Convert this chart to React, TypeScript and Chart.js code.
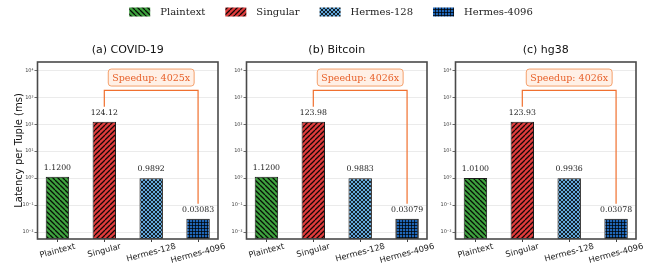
import React, { useEffect, useRef } from 'react';
import { Chart, registerables } from 'chart.js';
Chart.register(...registerables);

// ---------- data ----------
const categories = ['Plaintext', 'Singular', 'Hermes-128', 'Hermes-4096'];
const panelTitles = ['(a) COVID-19', '(b) Bitcoin', '(c) hg38'];
const covidValues = [1.12, 124.12, 0.9892, 0.03083];
const bitcoinValues = [1.12, 123.98, 0.9883, 0.03079];
const hg38Values = [1.01, 123.93, 0.9936, 0.03078];
const covidLabels = ['1.1200', '124.12', '0.9892', '0.03083'];
const bitcoinLabels = ['1.1200', '123.98', '0.9883', '0.03079'];
const hg38Labels = ['1.0100', '123.93', '0.9936', '0.03078'];
const speedupLabels = ['Speedup: 4025x', 'Speedup: 4026x', 'Speedup: 4026x'];
const yTickValues = [1e-2, 1e-1, 1, 10, 100, 1000, 10000];
const yTickLabels = ['10⁻²', '10⁻¹', '10⁰', '10¹', '10²', '10³', '10⁴'];
const yAxisTitle = 'Latency per Tuple (ms)';
const yMin = 0.0055;
const yMax = 20400;
const bracketLevel = 1800;
const speedupBoxLevel = 5400;

const panelValues = [covidValues, bitcoinValues, hg38Values];
const panelLabels = [covidLabels, bitcoinLabels, hg38Labels];

// ---------- layout / style ----------
const W = 657;
const H = 265;
const PLOT_TOP = 62;
const PLOT_BOTTOM = 239;
const PANEL_LEFTS = [37.5, 246.5, 455.5];
const PANEL_WIDTH = 180.5;
const Y_AXIS_W = 20;

const barColors = ['#3ea23e', '#e03c3c', '#62a8dc', '#1f66b8'];
const hatchKinds = ['back', 'fwd', 'cross', 'grid'];
const ORANGE = '#f0702f';

function makePattern(kind: string, color: string): CanvasPattern | string {
  const s = kind === 'grid' ? 3 : kind === 'cross' ? 4 : 5;
  const c = document.createElement('canvas');
  c.width = s;
  c.height = s;
  const g = c.getContext('2d');
  if (!g) return color;
  g.fillStyle = color;
  g.fillRect(0, 0, s, s);
  g.strokeStyle = 'rgba(0,0,0,0.9)';
  g.lineWidth = 1.3;
  g.beginPath();
  if (kind === 'back' || kind === 'cross') {
    if (kind === 'cross') g.lineWidth = 0.9;
    for (let k = -1; k <= 1; k++) {
      g.moveTo(0, k * s);
      g.lineTo(s, s + k * s);
    }
  }
  if (kind === 'fwd' || kind === 'cross') {
    for (let k = -1; k <= 1; k++) {
      g.moveTo(0, s + k * s);
      g.lineTo(s, k * s);
    }
  }
  if (kind === 'grid') {
    g.lineWidth = 0.8;
    g.moveTo(0, 0.5);
    g.lineTo(s, 0.5);
    g.moveTo(0.5, 0);
    g.lineTo(0.5, s);
  }
  g.stroke();
  const p = g.createPattern(c, 'repeat');
  return p || color;
}

function roundRect(ctx: CanvasRenderingContext2D, x: number, y: number, w: number, h: number, r: number) {
  ctx.beginPath();
  ctx.moveTo(x + r, y);
  ctx.lineTo(x + w - r, y);
  ctx.quadraticCurveTo(x + w, y, x + w, y + r);
  ctx.lineTo(x + w, y + h - r);
  ctx.quadraticCurveTo(x + w, y + h, x + w - r, y + h);
  ctx.lineTo(x + r, y + h);
  ctx.quadraticCurveTo(x, y + h, x, y + h - r);
  ctx.lineTo(x, y + r);
  ctx.quadraticCurveTo(x, y, x + r, y);
  ctx.closePath();
}

function makeOverlayPlugin(panel: number, patterns: (CanvasPattern | string)[]) {
  return {
    id: 'overlay' + panel,
    afterDraw(chart: any) {
      const ctx: CanvasRenderingContext2D = chart.ctx;
      const area = chart.chartArea;
      const xs = chart.scales.x;
      const ys = chart.scales.y;
      const values = panelValues[panel];
      const labels = panelLabels[panel];
      ctx.save();

      // frame
      ctx.strokeStyle = '#4a4a4a';
      ctx.lineWidth = 1.6;
      ctx.strokeRect(area.left, area.top, area.right - area.left, area.bottom - area.top);

      // value labels
      ctx.fillStyle = '#222';
      ctx.font = '7.8px "DejaVu Serif"';
      ctx.textAlign = 'center';
      ctx.textBaseline = 'middle';
      values.forEach((v, i) => {
        ctx.fillText(labels[i], xs.getPixelForValue(i), ys.getPixelForValue(v) - 9);
      });

      // speedup bracket
      const xl = xs.getPixelForValue(1);
      const xr = xs.getPixelForValue(3);
      const yb = ys.getPixelForValue(bracketLevel);
      ctx.strokeStyle = ORANGE;
      ctx.lineWidth = 1.2;
      ctx.beginPath();
      ctx.moveTo(xl, ys.getPixelForValue(values[1]) - 15);
      ctx.lineTo(xl, yb);
      ctx.lineTo(xr, yb);
      ctx.lineTo(xr, ys.getPixelForValue(values[3]) - 15);
      ctx.stroke();

      // speedup box
      ctx.font = '9.5px "DejaVu Serif"';
      const txt = speedupLabels[panel];
      const tw = ctx.measureText(txt).width;
      const bx = (xl + xr) / 2;
      const by = ys.getPixelForValue(speedupBoxLevel);
      const bw = tw + 8;
      const bh = 17;
      roundRect(ctx, bx - bw / 2, by - bh / 2, bw, bh, 3);
      ctx.fillStyle = '#fff0e6';
      ctx.fill();
      ctx.strokeStyle = '#f4a06c';
      ctx.lineWidth = 1;
      ctx.stroke();
      ctx.fillStyle = '#e8612a';
      ctx.fillText(txt, bx, by + 0.5);

      // x labels (rotated 15deg, centered bbox)
      ctx.font = '8.3px "DejaVu Sans"';
      ctx.fillStyle = '#222';
      const rot = (15 * Math.PI) / 180;
      categories.forEach((c, i) => {
        const w = ctx.measureText(c).width;
        const h = 9;
        const bbH = w * Math.sin(rot) + h * Math.cos(rot);
        const cx = xs.getPixelForValue(i);
        const cy = area.bottom + 3 + bbH / 2;
        ctx.save();
        ctx.translate(cx, cy);
        ctx.rotate(-rot);
        ctx.textAlign = 'center';
        ctx.textBaseline = 'middle';
        ctx.fillText(c, 0, 0);
        ctx.restore();
      });

      // panel title
      ctx.font = '11px "DejaVu Sans"';
      ctx.fillStyle = '#111';
      ctx.textAlign = 'center';
      ctx.textBaseline = 'middle';
      ctx.fillText(panelTitles[panel], (area.left + area.right) / 2, 50);

      if (panel === 0) {
        // y-axis title
        ctx.save();
        ctx.translate(19, (area.top + area.bottom) / 2);
        ctx.rotate(-Math.PI / 2);
        ctx.font = '10px "DejaVu Sans"';
        ctx.fillStyle = '#111';
        ctx.fillText(yAxisTitle, 0, 0);
        ctx.restore();

        // legend
        ctx.font = '10px "DejaVu Serif"';
        const patchW = 21;
        const patchH = 9;
        const gapPT = 10;
        const gapItem = 20;
        const widths = categories.map((c) => ctx.measureText(c).width);
        let total = 0;
        widths.forEach((w, i) => {
          total += patchW + gapPT + w + (i < widths.length - 1 ? gapItem : 0);
        });
        let x = 331 - total / 2;
        const ly = 12;
        categories.forEach((c, i) => {
          ctx.fillStyle = patterns[i] as any;
          ctx.fillRect(x, ly - patchH / 2, patchW, patchH);
          ctx.fillStyle = '#222';
          ctx.textAlign = 'left';
          ctx.textBaseline = 'middle';
          ctx.fillText(c, x + patchW + gapPT, ly);
          x += patchW + gapPT + widths[i] + gapItem;
        });
      }
      ctx.restore();
    },
  };
}

function Panel({ panel }: { panel: number }) {
  const ref = useRef<HTMLCanvasElement | null>(null);
  useEffect(() => {
    if (!ref.current) return;
    const patterns = hatchKinds.map((k, i) => makePattern(k, barColors[i]));
    const left = PANEL_LEFTS[panel];
    const right = left + PANEL_WIDTH;
    const chart = new Chart(ref.current, {
      type: 'bar',
      data: {
        datasets: [
          {
            data: panelValues[panel].map((v, i) => ({ x: i, y: v })),
            backgroundColor: patterns as any,
            borderColor: '#1a1a1a',
            borderWidth: 1,
            borderSkipped: false,
            barPercentage: 0.5,
            categoryPercentage: 1,
          },
        ],
      },
      options: {
        animation: false,
        responsive: false,
        events: [],
        layout: {
          padding: { left: left - Y_AXIS_W, right: W - right, top: PLOT_TOP, bottom: 0 },
        },
        plugins: { legend: { display: false }, title: { display: false }, tooltip: { enabled: false } },
        scales: {
          x: {
            type: 'linear',
            offset: false,
            min: -0.425,
            max: 3.425,
            afterBuildTicks: (s: any) => {
              s.ticks = categories.map((_, i) => ({ value: i }));
            },
            afterFit: (s: any) => {
              s.height = H - PLOT_BOTTOM;
            },
            ticks: { display: false },
            grid: { display: true, offset: false, drawOnChartArea: false, drawTicks: true, tickLength: 3, tickColor: '#444', color: '#444' },
            border: { display: false },
          },
          y: {
            type: 'logarithmic',
            min: yMin,
            max: yMax,
            afterBuildTicks: (s: any) => {
              s.ticks = yTickValues.map((v) => ({ value: v }));
            },
            afterFit: (s: any) => {
              s.width = Y_AXIS_W;
            },
            ticks: {
              padding: 1,
              color: '#444',
              font: { family: 'DejaVu Sans', size: 5 },
              callback: (v: any) => {
                const idx = yTickValues.findIndex((t) => Math.abs(t - v) / t < 1e-6);
                return idx >= 0 ? yTickLabels[idx] : '';
              },
            },
            grid: { color: '#e6e6e6', lineWidth: 0.8, tickLength: 3, tickColor: '#444' },
            border: { display: false },
          },
        },
      },
      plugins: [makeOverlayPlugin(panel, patterns)],
    } as any);
    return () => chart.destroy();
  }, [panel]);
  return (
    <canvas
      ref={ref}
      width={W}
      height={H}
      style={{ position: 'absolute', left: 0, top: 0, width: W, height: H }}
    />
  );
}

export default function App() {
  return (
    <div style={{ position: 'absolute', left: 0, top: 0, width: W, height: H, background: '#fff' }}>
      <Panel panel={0} />
      <Panel panel={1} />
      <Panel panel={2} />
    </div>
  );
}
